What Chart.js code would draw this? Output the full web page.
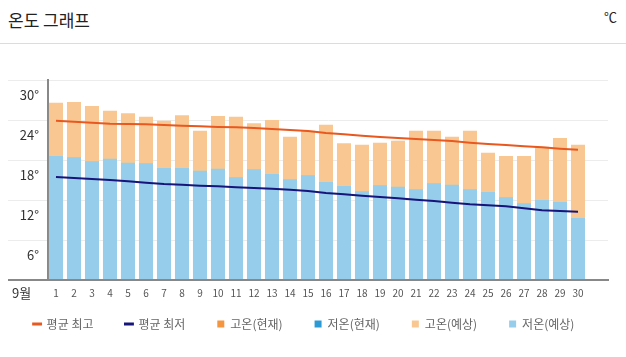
<!DOCTYPE html>
<html><head><meta charset="utf-8">
<script src="https://cdn.jsdelivr.net/npm/chart.js@4/dist/chart.umd.min.js"></script>
<style>
html,body{margin:0;padding:0;background:#fff;}
body{width:626px;height:357px;position:relative;overflow:hidden;font-family:"Noto Sans CJK KR","Noto Sans",sans-serif;}
#hdr{position:absolute;left:0;top:0;width:626px;height:43px;border-bottom:1px solid #dcdcdc;}
#ttl{position:absolute;left:8px;top:11px;font-size:17px;line-height:17px;color:#222;}
#unit{position:absolute;right:9px;top:10px;font-size:13px;line-height:14px;color:#222;}
#mon{position:absolute;left:12px;top:285px;font-size:13px;line-height:15px;color:#333;}
#wrap{position:absolute;left:0;top:44px;width:626px;height:313px;}
</style></head>
<body>
<div id="hdr"><span id="ttl">온도 그래프</span><span id="unit">℃</span></div>
<div id="wrap"><canvas id="c" width="626" height="313"></canvas></div>
<div id="mon">9월</div>
<script>
const days = [1,2,3,4,5,6,7,8,9,10,11,12,13,14,15,16,17,18,19,20,21,22,23,24,25,26,27,28,29,30];
const avgHigh = [23.9,23.75,23.6,23.45,23.4,23.35,23.25,23.15,23.05,22.95,22.9,22.8,22.65,22.5,22.35,22.05,21.85,21.65,21.45,21.3,21.15,21.0,20.85,20.6,20.4,20.25,20.05,19.9,19.7,19.55];
const avgLow = [15.45,15.3,15.15,15.0,14.8,14.6,14.4,14.3,14.15,14.05,13.9,13.8,13.7,13.55,13.35,13.05,12.85,12.65,12.45,12.25,12.05,11.85,11.6,11.35,11.2,11.05,10.75,10.45,10.35,10.25];
const highNow = days.map(() => null);
const lowNow = days.map(() => null);
const highFc = [26.6,26.7,26.1,25.4,25.0,24.5,23.9,24.7,22.4,24.6,24.5,23.5,24.0,21.5,22.4,23.3,20.5,20.3,20.6,20.9,22.4,22.4,21.5,22.4,19.1,18.6,18.6,20.0,21.3,20.3];
const lowFc = [18.6,18.4,17.8,18.2,17.6,17.5,16.8,16.8,16.4,16.7,15.4,16.6,15.9,15.1,15.7,14.7,14.1,13.3,14.2,14.0,13.6,14.5,14.3,13.6,13.2,12.4,11.5,12.0,11.7,9.3];
const yTicks = [0,6,12,18,24,30];
const seriesNames = ['평균 최고','평균 최저','고온(현재)','저온(현재)','고온(예상)','저온(예상)'];

const FONT = '"Noto Sans CJK KR","Noto Sans",sans-serif';
const C = {hi:'#e8581f', lo:'#17147a', hiNow:'#f5953f', loNow:'#2c9bd5', hiFc:'#f9c892', loFc:'#95cdeb'};

function barDs(label, data, color, order){
  return {type:'bar', label, data, backgroundColor:color, borderWidth:0, grouped:false,
    categoryPercentage:1, barPercentage:0.78, order, legendStyle:'rect'};
}
function lineDs(label, data, color){
  return {type:'line', label, data, borderColor:color, backgroundColor:color, borderWidth:2,
    pointRadius:0, pointHoverRadius:0, tension:0, order:0, legendStyle:'line'};
}

new Chart(document.getElementById('c'), {
  data: {
    labels: days,
    datasets: [
      lineDs(seriesNames[0], avgHigh, C.hi),
      lineDs(seriesNames[1], avgLow, C.lo),
      barDs(seriesNames[2], highNow, C.hiNow, 2),
      barDs(seriesNames[3], lowNow, C.loNow, 1),
      barDs(seriesNames[4], highFc, C.hiFc, 2),
      barDs(seriesNames[5], lowFc, C.loFc, 1)
    ]
  },
  options: {
    responsive:false, animation:false, devicePixelRatio:1,
    layout:{padding:{left:0, right:18, top:36, bottom:17}},
    scales:{
      x:{type:'linear', position:'bottom', min:0.556, max:31.667, offset:false,
        grid:{display:false, drawTicks:false, offset:false},
        border:{display:true, color:'#888', width:2},
        afterBuildTicks:s=>{ s.ticks = days.map(v=>({value:v})); },
        afterFit:s=>{ s.height = 6; },
        ticks:{autoSkip:false, maxRotation:0, mirror:true, padding:-19, color:'#555', font:{family:FONT, size:10},
          callback:v=>String(v)}
      },
      y:{min:0, max:30,
        afterBuildTicks:s=>{ s.ticks = yTicks.map(v=>({value:v})); },
        afterFit:s=>{ s.width = 48; },
        grid:{tickLength:40, color:c=>c.tick && c.tick.value===0 ? '#888' : '#ececec',
          lineWidth:c=>c.tick && c.tick.value===0 ? 2 : 1},
        border:{display:true, color:'#888', width:2},
        ticks:{padding:-31, labelOffset:15, color:'#333', font:{family:FONT, size:13},
          callback:v=> v===0 ? '' : v+'°'}
      }
    },
    plugins:{
      tooltip:{enabled:false},
      legend:{position:'bottom', align:'center',
        labels:{usePointStyle:true, boxWidth:7, boxHeight:7, padding:32, color:'#666',
          font:{family:FONT, size:12},
          sort:(a,b)=>a.datasetIndex-b.datasetIndex,
          generateLabels:(chart)=>chart.data.datasets.map((d,i)=>({
            text:d.label, datasetIndex:i, fontColor:'#666', hidden:false,
            fillStyle:d.type==='line'?d.borderColor:d.backgroundColor,
            strokeStyle:d.type==='line'?d.borderColor:d.backgroundColor,
            lineWidth:d.legendStyle==='line'?3:0,
            pointStyle:d.legendStyle, rotation:0
          }))
        }
      }
    }
  }
});
</script>
</body></html>
